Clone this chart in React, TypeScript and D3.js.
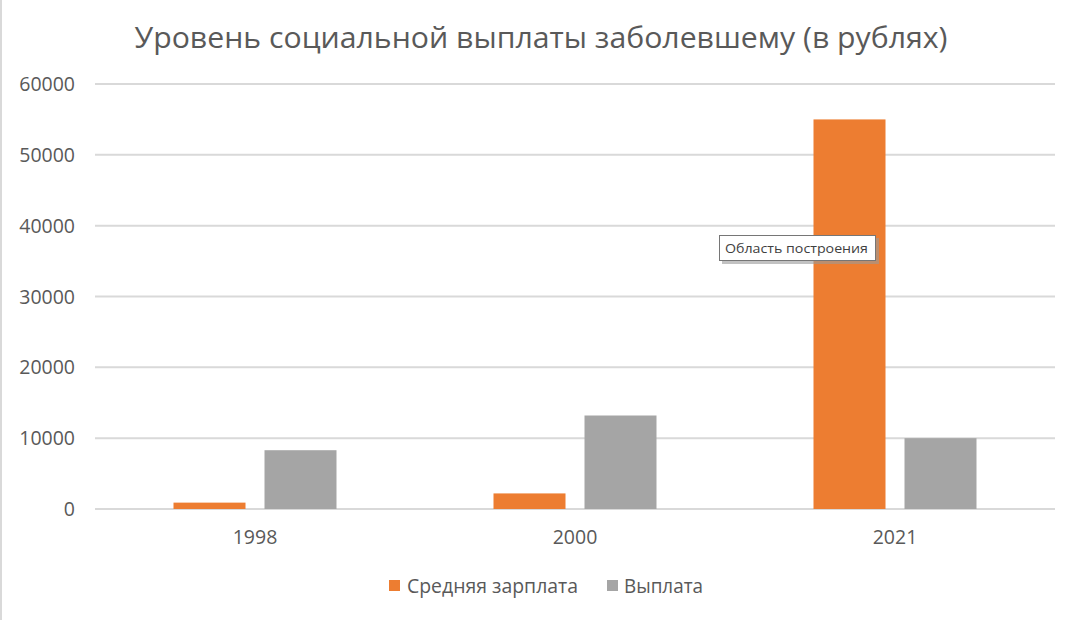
import React from "react";
import * as d3 from "d3";

const categories = ["1998", "2000", "2021"];
const seriesNames = ["Средняя зарплата", "Выплата"];
const salary = [900, 2200, 55000];
const payment = [8300, 13200, 10000];
const yTicks = [0, 10000, 20000, 30000, 40000, 50000, 60000];
const title = "Уровень социальной выплаты заболевшему (в рублях)";
const tooltipText = "Область построения";
const colors = ["#ED7D31", "#A5A5A5"];

const W = 1079;
const H = 620;
const left = 95;
const right = 1055;
const top = 84;
const bottom = 509;
const font = "'Open Sans', sans-serif";

export default function App() {
  const x = d3.scaleBand<string>().domain(categories).range([left, right]).paddingInner(0).paddingOuter(0);
  const y = d3.scaleLinear().domain([0, 60000]).range([bottom, top]);
  const barW = 72;
  const gap = 19;
  const series = [salary, payment];

  return (
    <svg width={W} height={H} style={{ position: "absolute", left: 0, top: 0, background: "#fff" }}>
      <rect x={0} y={0} width={W} height={H} fill="#fff" />
      <rect x={0} y={0} width={2} height={H} fill="#d9d9d9" />
      <text x={541} y={48} textAnchor="middle" fontFamily={font} fontSize={29} fill="#595959" textLength={813} lengthAdjust="spacingAndGlyphs">
        {title}
      </text>
      {yTicks.map((t) => (
        <g key={t}>
          <line x1={left} x2={right} y1={y(t)} y2={y(t)} stroke="#d9d9d9" strokeWidth={2} />
          <text x={75} y={y(t) + 7} textAnchor="end" fontFamily={font} fontSize={19.5} fill="#595959">
            {t}
          </text>
        </g>
      ))}
      {categories.map((c, i) => {
        const cx = (x(c) as number) + x.bandwidth() / 2;
        return (
          <g key={c}>
            {series.map((s, j) => {
              const bx = j === 0 ? cx - gap / 2 - barW : cx + gap / 2;
              return (
                <rect key={j} x={bx} y={y(s[i])} width={barW} height={y(0) - y(s[i])} fill={colors[j]} />
              );
            })}
            <text x={cx} y={544} textAnchor="middle" fontFamily={font} fontSize={19.5} fill="#595959">
              {c}
            </text>
          </g>
        );
      })}
      {/* legend */}
      <rect x={389} y={580} width={11} height={11} fill={colors[0]} />
      <text x={407} y={593} fontFamily={font} fontSize={19.5} fill="#595959" textLength={171} lengthAdjust="spacingAndGlyphs">
        {seriesNames[0]}
      </text>
      <rect x={607} y={580} width={11} height={11} fill={colors[1]} />
      <text x={624} y={593} fontFamily={font} fontSize={19.5} fill="#595959" textLength={79} lengthAdjust="spacingAndGlyphs">
        {seriesNames[1]}
      </text>
      {/* tooltip */}
      <rect x={722} y={238} width={157} height={26} fill="#9a9a9a" opacity={0.6} />
      <rect x={719.5} y={235.5} width={156} height={25} fill="#fff" stroke="#767676" strokeWidth={1} />
      <text x={725} y={253} fontFamily={font} fontSize={13.5} fill="#404040" textLength={143} lengthAdjust="spacingAndGlyphs">
        {tooltipText}
      </text>
    </svg>
  );
}
